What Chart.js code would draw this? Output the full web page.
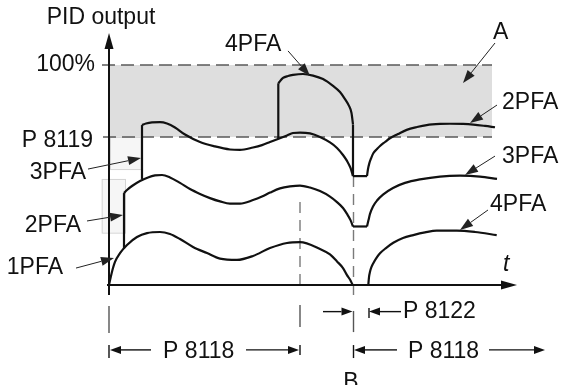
<!DOCTYPE html>
<html>
<head>
<meta charset="utf-8">
<script src="https://cdn.jsdelivr.net/npm/chart.js@4.4.0/dist/chart.umd.min.js"></script>
<style>
html,body{margin:0;padding:0;background:#ffffff;}
#wrap{width:572px;height:385px;position:relative;}
</style>
</head>
<body>
<div id="wrap"><canvas id="c" width="572" height="385"></canvas></div>
<script>
// ---- parameters (time in arbitrary units, output in %) ----
const P8118 = 191;      // PFA time delay
const P8119 = 67.3;     // PFA start level (%)
const P8122 = 15;       // PFA start delay
const tB = 244;         // instant B
const LEVEL_MAX = 100;  // 100 %

// ---- curve segments ----
// 1PFA (lowest curve, left part)
const pfa1Time = [0, 2.7, 6, 11, 18, 28, 38, 51, 61, 71, 84, 98, 111, 128, 144, 161, 178, 191, 211, 221, 228, 234, 238, 241, 243.7];
const pfa1Out  = [0, 5.5, 10.5, 14.5, 18.2, 21.8, 23.6, 24.1, 23.2, 20.9, 17.3, 14.5, 12.0, 11.4, 13.2, 16.8, 19.1, 19.5, 16.4, 13.9, 10.7, 7.7, 4.5, 2.5, 0];
// 2PFA start step
const pfa2StepTime = [15, 15];
const pfa2StepOut  = [16.6, 41.8];
// 2PFA (middle curve, left part)
const pfa2Time = [15, 18, 23, 31, 39, 46, 53, 61, 71, 81, 91, 101, 111, 121, 131, 144, 153, 161, 171, 181, 191, 201, 211, 221, 228, 234, 238, 241.5, 244];
const pfa2Out  = [41.8, 43.2, 45, 47.3, 48.9, 49.8, 50, 48.9, 46.4, 43.6, 41.4, 39.5, 38, 37, 37, 38.6, 40.2, 42, 43.9, 44.8, 45.2, 44.3, 42.7, 40.2, 37.7, 35, 32.3, 29.5, 26.6];
const pfa2FlatTime = [244, 258];
const pfa2FlatOut  = [26.6, 26.6];
// 3PFA after B (middle curve, right part)
const pfa3RTime = [258, 259.5, 261, 264, 268, 274, 284, 296, 311, 331, 351, 371, 388];
const pfa3ROut  = [26.6, 29.5, 32.3, 35.7, 38.4, 41.1, 44.1, 46.4, 48, 49.3, 49.7, 49.3, 48.2];
// 3PFA start step
const pfa3StepTime = [33, 33];
const pfa3StepOut  = [48.2, 72.7];
// 3PFA (upper curve, left part)
const pfa3Time = [33, 37, 43, 51, 58, 66, 76, 91, 106, 121, 131, 144, 153, 161, 169, 178, 184, 191, 201, 211, 221, 228, 234, 238, 241.5, 244];
const pfa3Out  = [72.7, 73.4, 73.9, 74, 73.4, 71.6, 68.4, 65, 63, 61.6, 61.4, 62.5, 63.6, 65, 66.4, 68, 69.1, 69.3, 68.9, 67.3, 64.8, 62.3, 59.1, 56.4, 53.2, 49.5];
const pfa3FlatTime = [244, 258];
const pfa3FlatOut  = [49.5, 49.5];
// 2PFA after B (upper curve, right part)
const pfa2RTime = [258, 259, 260.3, 262, 264.3, 268, 271, 276, 281, 289, 297.7, 308, 317.7, 331, 341, 354, 364.3, 376, 386];
const pfa2ROut  = [49.5, 52.7, 55.3, 57.5, 59.9, 61.8, 63.2, 65, 66.7, 68.6, 70.5, 71.8, 72.7, 73.2, 73.3, 73.2, 72.9, 72.3, 71.7];
// 4PFA start step
const pfa4StepTime = [169.3, 169.3];
const pfa4StepOut  = [66.4, 91.7];
// 4PFA (top curve)
const pfa4Time = [169.3, 174, 179, 184, 194, 204, 214, 224, 231, 236, 240, 242.5, 244];
const pfa4Out  = [91.7, 94.1, 95, 95.5, 95.9, 95.2, 93.6, 90.5, 87.7, 84.5, 81.4, 78.2, 73];
// 4PFA stop drop at B
const pfa4DropTime = [244, 244];
const pfa4DropOut  = [73, 49.5];
// 4PFA after B (lowest curve, right part)
const pfa4RTime = [259.3, 260, 261, 262.5, 264.3, 267, 271, 277, 284.3, 294, 304.3, 316, 327.7, 347.7, 366, 387.7];
const pfa4ROut  = [0, 3.6, 6, 8.2, 9.9, 12, 14.4, 16.8, 19.2, 21.4, 22.7, 23.9, 24.7, 24.7, 24.1, 22.7];

// ---- texts ----
const yTitle = 'PID output';
const xTitle = 't';
const levelLabels = ['100%', 'P 8119'];
const leftLabels = ['3PFA', '2PFA', '1PFA'];
const rightLabels = ['2PFA', '3PFA', '4PFA'];
const topLabel = '4PFA';
const bandLabel = 'A';
const dimLabels = ['P 8118', 'P 8122', 'P 8118'];
const bLabel = 'B';

// ---- build datasets ----
function zip(ts, vs){ return ts.map((t,i)=>({x:t, y:vs[i]})); }
const curveStyle = {borderColor:'#111', borderWidth:2.2, pointRadius:0, fill:false, clip:false, cubicInterpolationMode:'monotone'};
const stepStyle = {borderColor:'#111', borderWidth:2.2, pointRadius:0, fill:false, clip:false, tension:0};
const datasets = [
  Object.assign({label:'1PFA', data:zip(pfa1Time,pfa1Out)}, curveStyle),
  Object.assign({label:'2PFA step', data:zip(pfa2StepTime,pfa2StepOut)}, stepStyle),
  Object.assign({label:'2PFA', data:zip(pfa2Time,pfa2Out)}, curveStyle),
  Object.assign({label:'2PFA flat', data:zip(pfa2FlatTime,pfa2FlatOut)}, stepStyle),
  Object.assign({label:'3PFA after B', data:zip(pfa3RTime,pfa3ROut)}, curveStyle),
  Object.assign({label:'3PFA step', data:zip(pfa3StepTime,pfa3StepOut)}, stepStyle),
  Object.assign({label:'3PFA', data:zip(pfa3Time,pfa3Out)}, curveStyle),
  Object.assign({label:'3PFA flat', data:zip(pfa3FlatTime,pfa3FlatOut)}, stepStyle),
  Object.assign({label:'2PFA after B', data:zip(pfa2RTime,pfa2ROut)}, curveStyle),
  Object.assign({label:'4PFA step', data:zip(pfa4StepTime,pfa4StepOut)}, stepStyle),
  Object.assign({label:'4PFA', data:zip(pfa4Time,pfa4Out)}, curveStyle),
  Object.assign({label:'4PFA drop', data:zip(pfa4DropTime,pfa4DropOut)}, stepStyle),
  Object.assign({label:'4PFA after B', data:zip(pfa4RTime,pfa4ROut)}, curveStyle)
];

const FONT = '23px "Liberation Sans", Arial, sans-serif';
const INK = '#111';

function arrow(ctx, x1, y1, x2, y2, len, hw, lw, color){
  const a = Math.atan2(y2-y1, x2-x1);
  const bx = x2 - len*Math.cos(a), by = y2 - len*Math.sin(a);
  ctx.strokeStyle = color; ctx.lineWidth = lw;
  ctx.beginPath(); ctx.moveTo(x1,y1); ctx.lineTo(bx,by); ctx.stroke();
  ctx.fillStyle = color;
  ctx.beginPath();
  ctx.moveTo(x2,y2);
  ctx.lineTo(bx + hw*Math.sin(a), by - hw*Math.cos(a));
  ctx.lineTo(bx - hw*Math.sin(a), by + hw*Math.cos(a));
  ctx.closePath(); ctx.fill();
}
function seg(ctx, x1, y1, x2, y2, lw, color, dash){
  ctx.save();
  ctx.strokeStyle = color; ctx.lineWidth = lw; ctx.setLineDash(dash || []);
  ctx.beginPath(); ctx.moveTo(x1,y1); ctx.lineTo(x2,y2); ctx.stroke();
  ctx.restore();
}
function text(ctx, s, x, y, align, font){
  ctx.save();
  ctx.font = font || FONT; ctx.fillStyle = INK;
  ctx.textAlign = align || 'left'; ctx.textBaseline = 'middle';
  ctx.fillText(s, x, y);
  ctx.restore();
}

const diagram = {
  id: 'diagram',
  beforeDatasetsDraw(chart){
    const ctx = chart.ctx;
    const X = v => chart.scales.x.getPixelForValue(v);
    const Y = v => chart.scales.y.getPixelForValue(v);
    const bandEnd = 383;
    ctx.save();
    // zone A (between P 8119 and 100 %)
    ctx.fillStyle = '#dedede';
    ctx.fillRect(X(1), Y(LEVEL_MAX), X(bandEnd)-X(1), Y(P8119)-Y(LEVEL_MAX));
    // faint boxes
    ctx.fillStyle = '#f6f6f6'; ctx.strokeStyle = '#d4d4d4'; ctx.lineWidth = 1;
    ctx.fillRect(X(1), Y(P8119), X(31.7)-X(1), Y(52.7)-Y(P8119));
    ctx.strokeRect(X(1)+0.5, Y(P8119)+0.5, X(31.7)-X(1), Y(52.7)-Y(P8119));
    ctx.fillRect(X(-7.3), Y(48.2), X(16)-X(-7.3), Y(23.8)-Y(48.2));
    ctx.strokeRect(X(-7.3)+0.5, Y(48.2)+0.5, X(16)-X(-7.3), Y(23.8)-Y(48.2));
    // level lines
    seg(ctx, X(-7), Y(LEVEL_MAX), X(bandEnd), Y(LEVEL_MAX), 1.6, '#5a5a5a', [13,6]);
    seg(ctx, X(-6), Y(P8119), X(bandEnd), Y(P8119), 1.6, '#5a5a5a', [13,6]);
    // vertical dashed lines
    seg(ctx, X(P8118), Y(37.7), X(P8118), Y(-2.3), 1.4, '#7a7a7a', [11,7]);
    seg(ctx, X(tB)+0.5, Y(49.5), X(tB)+0.5, Y(-4.5), 1.4, '#7a7a7a', [11,7]);
    ctx.restore();
  },
  afterDatasetsDraw(chart){
    const ctx = chart.ctx;
    const X = v => chart.scales.x.getPixelForValue(v);
    const Y = v => chart.scales.y.getPixelForValue(v);
    ctx.save();
    // axes
    seg(ctx, X(0), Y(-4.5), X(0), Y(108), 2, INK);
    arrow(ctx, X(0), Y(100), X(0), Y(114.5), 16, 4.5, 2, INK);
    seg(ctx, X(-2), Y(0), X(396), Y(0), 2, INK);
    arrow(ctx, X(380), Y(0), X(408), Y(0), 16, 4.5, 2, INK);
    // short segments under the axis
    seg(ctx, X(0), Y(-9.5), X(0), Y(-21.8), 1.4, '#555');
    seg(ctx, X(P8118), Y(-9.1), X(P8118), Y(-19.1), 1.4, '#555');
    seg(ctx, X(tB)+0.5, Y(-11.8), X(tB)+0.5, Y(-21.4), 1.4, '#555');
    // P 8122 dimension
    arrow(ctx, X(214), Y(-12.1), X(tB-0.5), Y(-12.1), 11, 4, 1.4, INK);
    seg(ctx, X(tB+P8122+1), Y(-10.5), X(tB+P8122+1), Y(-15), 1.4, INK);
    arrow(ctx, X(292), Y(-12.1), X(tB+P8122+1), Y(-12.1), 11, 4, 1.4, INK);
    text(ctx, dimLabels[1], X(294), Y(-12.1), 'left');
    // P 8118 dimension (first)
    seg(ctx, X(0), Y(-27.3), X(0), Y(-33.2), 1.4, INK);
    arrow(ctx, X(42), Y(-29.5), X(1), Y(-29.5), 11, 4, 1.4, INK);
    arrow(ctx, X(137), Y(-29.5), X(P8118-1), Y(-29.5), 11, 4, 1.4, INK);
    seg(ctx, X(P8118), Y(-27.3), X(P8118), Y(-31.8), 1.4, INK);
    text(ctx, dimLabels[0], X(P8118/2 - 5.8), Y(-30.5), 'center');
    // P 8118 dimension (after B)
    seg(ctx, X(tB)+0.5, Y(-27.3), X(tB)+0.5, Y(-33.2), 1.4, INK);
    arrow(ctx, X(288), Y(-29.5), X(tB+1), Y(-29.5), 11, 4, 1.4, INK);
    arrow(ctx, X(380), Y(-29.5), X(436), Y(-29.5), 11, 4, 1.4, INK);
    text(ctx, dimLabels[2], X(334.5), Y(-30.5), 'center');
    text(ctx, bLabel, X(tB-2), Y(-44.2), 'center');
    // titles and level labels
    text(ctx, yTitle, X(-8), Y(121.4), 'center');
    text(ctx, xTitle, X(394), Y(9.1), 'left', 'italic 23px "Liberation Sans", Arial, sans-serif');
    text(ctx, levelLabels[0], X(-14), Y(100), 'right');
    text(ctx, levelLabels[1], X(-16), Y(65.5), 'right');
    // left pointers
    text(ctx, leftLabels[0], X(-23), Y(51.1), 'right');
    text(ctx, leftLabels[1], X(-28), Y(26.8), 'right');
    text(ctx, leftLabels[2], X(-46), Y(7.7), 'right');
    arrow(ctx, X(-21), Y(52.7), X(32), Y(57.7), 13, 4.5, 1, '#222');
    arrow(ctx, X(-22), Y(29.1), X(14), Y(31.8), 13, 4.5, 1, '#222');
    arrow(ctx, X(-33), Y(7.7), X(5), Y(12.3), 13, 4.5, 1, '#222');
    // top & right pointers
    text(ctx, topLabel, X(116), Y(109.1), 'left');
    arrow(ctx, X(179), Y(106.4), X(201), Y(95), 13, 4.5, 1, '#222');
    text(ctx, bandLabel, X(384), Y(114.5), 'left');
    arrow(ctx, X(386), Y(110), X(354), Y(91.8), 13, 4.5, 1, '#222');
    text(ctx, rightLabels[0], X(393), Y(82.7), 'left');
    arrow(ctx, X(388), Y(81.8), X(361), Y(73.6), 13, 4.5, 1, '#222');
    text(ctx, rightLabels[1], X(393), Y(58.2), 'left');
    arrow(ctx, X(386), Y(58.6), X(356), Y(50), 13, 4.5, 1, '#222');
    text(ctx, rightLabels[2], X(381), Y(36.4), 'left');
    arrow(ctx, X(379), Y(34.1), X(351), Y(25), 13, 4.5, 1, '#222');
    ctx.restore();
  }
};

new Chart(document.getElementById('c'), {
  type: 'line',
  data: { datasets: datasets },
  options: {
    responsive: false,
    animation: false,
    devicePixelRatio: 1,
    layout: { padding: { left: 109, right: 0, top: 21, bottom: 100 } },
    scales: {
      x: { type: 'linear', min: 0, max: 463, display: false },
      y: { type: 'linear', min: 0, max: 120, display: false }
    },
    plugins: { legend: { display: false }, tooltip: { enabled: false } },
    elements: { line: { capBezierPoints: false } }
  },
  plugins: [diagram]
});
</script>
</body>
</html>
